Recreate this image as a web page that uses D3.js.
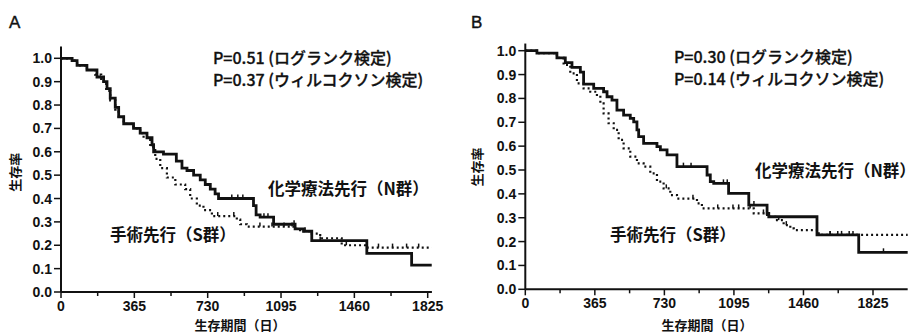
<!DOCTYPE html>
<html>
<head>
<meta charset="utf-8">
<script src="https://cdn.jsdelivr.net/npm/d3@7"></script>
<style>
  body { margin: 0; background: #fff; }
  svg { display: block; }
  .tick-lab { font-family: "Liberation Sans", Arial, sans-serif; font-weight: bold; font-size: 14px; fill: #111; }
  .jp { font-family: "Noto Sans CJK JP", sans-serif; fill: #111; }
</style>
</head>
<body>
<svg id="chart" width="917" height="334"></svg>
<script>
// survival-time (days) / survival-rate pairs
const xTicks = [0, 365, 730, 1095, 1460, 1825];
const yTicks = [0, 0.1, 0.2, 0.3, 0.4, 0.5, 0.6, 0.7, 0.8, 0.9, 1.0];

const aChemo = [[0,1],[55,.99],[80,.97],[129,.95],[179,.92],[212,.90],[229,.87],[245,.83],[270,.79],[287,.75],[312,.72],[361,.70],[394,.68],[428,.66],[453,.63],[461,.60],[510,.59],[574,.56],[602,.53],[627,.52],[660,.50],[693,.48],[718,.46],[743,.44],[767,.42],[784,.40],[958,.37],[971,.33],[991,.32],[1058,.29],[1165,.27],[1207,.26],[1248,.22],[1522,.165],[1745,.115],[1845,.115]];
const aSurg = [[0,1],[55,.99],[80,.97],[129,.95],[170,.93],[200,.90],[225,.86],[245,.82],[270,.78],[287,.75],[312,.72],[361,.70],[394,.68],[411,.66],[444,.62],[469,.57],[494,.53],[527,.49],[569,.46],[618,.44],[643,.40],[676,.37],[709,.35],[751,.325],[875,.31],[892,.29],[925,.28],[1157,.27],[1190,.26],[1240,.25],[1290,.23],[1397,.20],[1513,.19],[1845,.19]];
const bChemo = [[0,1],[61,.99],[166,.97],[210,.95],[245,.93],[289,.91],[306,.86],[359,.842],[411,.828],[429,.807],[455,.793],[481,.751],[516,.73],[551,.716],[569,.702],[586,.668],[595,.64],[621,.612],[691,.598],[709,.584],[744,.563],[796,.514],[954,.479],[971,.451],[989,.444],[1067,.402],[1173,.353],[1269,.318],[1278,.304],[1531,.228],[1750,.155],[2007,.155]];
const bSurg = [[0,1],[61,.99],[166,.97],[201,.94],[236,.905],[271,.863],[306,.842],[341,.828],[376,.807],[394,.779],[411,.737],[437,.696],[464,.668],[490,.626],[516,.591],[551,.556],[586,.528],[621,.514],[656,.486],[691,.451],[726,.423],[761,.395],[796,.38],[901,.36],[927,.339],[1199,.318],[1269,.304],[1312,.29],[1356,.269],[1391,.255],[1409,.248],[1540,.228],[2007,.228]];

// censored observations (days)
const aChemoCens = [850, 880, 905, 1010, 1030, 1160, 1215, 1290];
const aSurgCens = [780, 860, 990, 1050, 1110, 1150, 1420, 1580, 1650, 1720, 1780];
const bChemoCens = [830, 870, 1040, 1060, 1200, 1270, 1600, 1640, 1700, 1880];
const bSurgCens = [740, 880, 1010, 1090, 1120, 1180, 1250, 1330, 1370, 1600, 1660, 1720];

const panels = [
  { letter: 'A', x0: 61, x1: 427.7, y0: 292, y1: 58.3, xEnd: 1846, yTop: 1.05,
    chemo: aChemo, surg: aSurg, chemoCens: aChemoCens, surgCens: aSurgCens,
    p: ['P=0.51 (ログランク検定)', 'P=0.37 (ウィルコクソン検定)'], pX: 213, pY: 64,
    nLab: [268, 195], sLab: [110, 241], lx: 9, ylx: 20, xTitle: 240 },
  { letter: 'B', x0: 525.3, x1: 873, y0: 289.3, y1: 50.7, xEnd: 2007, yTop: 1.03,
    chemo: bChemo, surg: bSurg, chemoCens: bChemoCens, surgCens: bSurgCens,
    p: ['P=0.30 (ログランク検定)', 'P=0.14 (ウィルコクソン検定)'], pX: 674, pY: 63,
    nLab: [755, 177], sLab: [610, 241], lx: 471, ylx: 482, xTitle: 707 }
];

const svg = d3.select('#chart');

panels.forEach(p => {
  const x = d3.scaleLinear().domain([0, 1825]).range([p.x0, p.x1]);
  const y = d3.scaleLinear().domain([0, 1]).range([p.y0, p.y1]);
  const g = svg.append('g');

  // axes
  g.append('line').attr('x1', x(0)).attr('x2', x(p.xEnd)).attr('y1', y(0)).attr('y2', y(0))
    .attr('stroke', '#111').attr('stroke-width', 2);
  g.append('line').attr('x1', x(0)).attr('x2', x(0)).attr('y1', y(0)).attr('y2', y(p.yTop))
    .attr('stroke', '#111').attr('stroke-width', 2);

  g.selectAll('.ytk').data(yTicks).enter().append('line')
    .attr('x1', x(0) - 7).attr('x2', x(0)).attr('y1', d => y(d)).attr('y2', d => y(d))
    .attr('stroke', '#111').attr('stroke-width', 1.5);
  g.selectAll('.ylab').data(yTicks).enter().append('text')
    .attr('class', 'tick-lab').attr('x', x(0) - 9).attr('y', d => y(d) + 5)
    .attr('text-anchor', 'end').text(d => d.toFixed(1));

  const minor = d3.range(0, p.xEnd, 182.5);
  g.selectAll('.xtk').data(minor).enter().append('line')
    .attr('x1', d => x(d)).attr('x2', d => x(d)).attr('y1', y(0))
    .attr('y2', (d, i) => y(0) + (i % 2 === 0 ? 6 : 4))
    .attr('stroke', '#111').attr('stroke-width', 1.5);
  g.selectAll('.xlab').data(xTicks).enter().append('text')
    .attr('class', 'tick-lab').attr('x', d => x(d)).attr('y', y(0) + 19)
    .attr('text-anchor', 'middle').text(d => d);

  // KM curves
  const line = d3.line().x(d => x(d[0])).y(d => y(d[1])).curve(d3.curveStepAfter);
  g.append('path').datum(p.surg).attr('d', line).attr('fill', 'none')
    .attr('stroke', '#111').attr('stroke-width', 2.2).attr('stroke-dasharray', '2,3');
  g.append('path').datum(p.chemo).attr('d', line).attr('fill', 'none')
    .attr('stroke', '#111').attr('stroke-width', 2.8);

  const survAt = (curve, t) => {
    let v = curve[0][1];
    curve.forEach(d => { if (d[0] <= t) v = d[1]; });
    return v;
  };
  [[p.chemo, p.chemoCens], [p.surg, p.surgCens]].forEach(([curve, cens]) => {
    g.selectAll(null).data(cens).enter().append('line')
      .attr('x1', d => x(d)).attr('x2', d => x(d))
      .attr('y1', d => y(survAt(curve, d)) - 4).attr('y2', d => y(survAt(curve, d)))
      .attr('stroke', '#111').attr('stroke-width', 1.5);
  });

  // text
  g.append('text').attr('x', p.lx).attr('y', 28).attr('font-family', 'Liberation Sans, Arial, sans-serif')
    .attr('font-size', 17).attr('fill', '#111').attr('stroke', '#111').attr('stroke-width', 0.4).text(p.letter);
  g.selectAll('.pv').data(p.p).enter().append('text').attr('class', 'jp')
    .attr('x', p.pX).attr('y', (d, i) => p.pY + i * 22).attr('font-size', 16)
    .attr('font-weight', 500).attr('stroke', '#111').attr('stroke-width', 0.3).text(d => d);
  g.append('text').attr('class', 'jp').attr('x', p.nLab[0]).attr('y', p.nLab[1])
    .attr('font-size', 16.5).attr('font-weight', 'bold').text('化学療法先行（N群）');
  g.append('text').attr('class', 'jp').attr('x', p.sLab[0]).attr('y', p.sLab[1])
    .attr('font-size', 16.5).attr('font-weight', 'bold').text('手術先行（S群）');
  g.append('text').attr('class', 'jp').attr('transform', `translate(${p.ylx},${(y(0) + y(1)) / 2 - 3}) rotate(-90)`)
    .attr('text-anchor', 'middle').attr('font-size', 13).attr('font-weight', 'bold').text('生存率');
  g.append('text').attr('class', 'jp').attr('x', p.xTitle).attr('y', 330)
    .attr('text-anchor', 'middle').attr('font-size', 13).attr('font-weight', 'bold').text('生存期間（日）');
});
</script>
</body>
</html>
